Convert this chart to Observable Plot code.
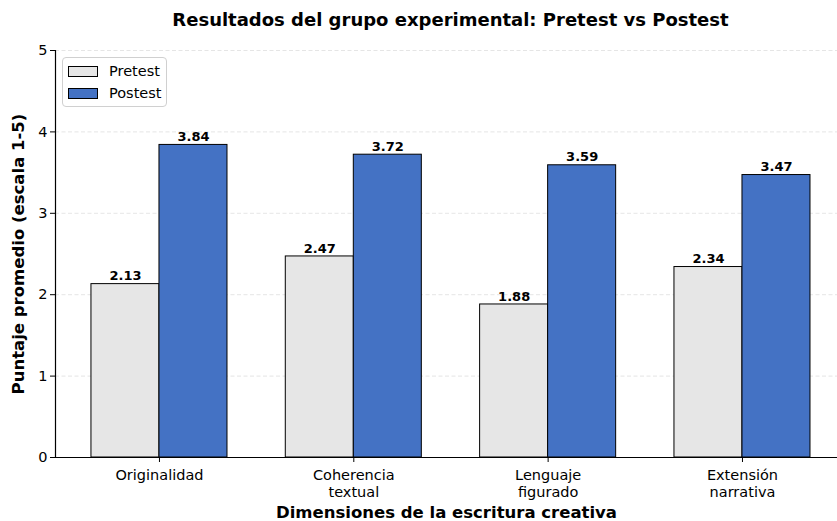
<!DOCTYPE html>
<html>
<head>
<meta charset="utf-8">
<script src="https://cdn.jsdelivr.net/npm/d3@7"></script>
<script src="https://cdn.jsdelivr.net/npm/@observablehq/plot@0.6"></script>
<style>
  html, body { margin: 0; padding: 0; background: #fff; overflow: hidden; }
  body { width: 837px; height: 521px; position: relative; font-family: "DejaVu Sans", sans-serif; }
  #title { position: absolute; left: 55px; width: 791px; top: 9px; text-align: center; font-weight: bold; font-size: 18px; color: #000; }
  #chart { position: absolute; left: 0; top: 38px; }
  #legend { position: absolute; left: 62px; top: 57px; width: 105px; height: 50px; box-sizing: border-box;
            border: 1px solid #d0d0d0; border-radius: 4px; background: rgba(255,255,255,0.8); font-size: 14.5px; }
  .item { position: absolute; left: 5px; height: 18px; display: flex; align-items: center; white-space: nowrap; }
  .sw { width: 28px; height: 9px; border: 1px solid #000; margin-right: 11px; }
</style>
</head>
<body>
<div id="title">Resultados del grupo experimental: Pretest vs Postest</div>
<div id="chart"></div>
<div id="legend"></div>
<script>
const categories = ["Originalidad", "Coherencia\ntextual", "Lenguaje\nfigurado", "Extensión\nnarrativa"];
const seriesNames = ["Pretest", "Postest"];
const pretest = [2.13, 2.47, 1.88, 2.34];
const postest = [3.84, 3.72, 3.59, 3.47];
const seriesColors = ["#e6e6e6", "#4472c4"];
const yTicks = [0, 1, 2, 3, 4, 5];

const barW = 0.35;
const rows = [];
categories.forEach((c, i) => {
  rows.push({i, series: "Pretest", value: pretest[i], x1: i - barW, x2: i});
  rows.push({i, series: "Postest", value: postest[i], x1: i, x2: i + barW});
});

const font = "DejaVu Sans, sans-serif";
const plot = Plot.plot({
  width: 837,
  height: 483,
  marginLeft: 55,
  marginRight: 0,
  marginTop: 12,
  marginBottom: 64,
  style: {fontFamily: font, fontSize: "14.5px", color: "#000", background: "transparent"},
  x: {domain: [-0.535, 3.489], label: null},
  y: {domain: [0, 5], label: null},
  color: {domain: seriesNames, range: seriesColors},
  marks: [
    Plot.gridY(yTicks.slice(1), {stroke: "#c8c8c8", strokeOpacity: 0.6, strokeDasharray: "4,2.5", strokeWidth: 0.8}),
    Plot.rectY(rows, {x1: "x1", x2: "x2", y: "value", fill: "series", stroke: "#000", strokeWidth: 1}),
    Plot.text(rows, {x: d => (d.x1 + d.x2) / 2, y: "value", text: d => d.value.toFixed(2), dy: -8,
      fontWeight: "bold", fontSize: 13, fill: "#000"}),
    Plot.ruleY([0], {stroke: "#000", strokeWidth: 1.2}),
    Plot.ruleX([-0.535], {stroke: "#000", strokeWidth: 1.2}),
    Plot.axisY({ticks: yTicks, tickSize: 5, tickPadding: 3, tickFormat: d => String(d), label: null, fontSize: 14.5}),
    Plot.axisX({ticks: [0, 1, 2, 3], tickSize: 5, tickPadding: 6, tickFormat: i => categories[i], label: null, fontSize: 14.5, lineHeight: 1.15}),
    Plot.text(["Puntaje promedio (escala 1-5)"], {frameAnchor: "left", rotate: -90, dx: -37, textAnchor: "middle",
      fontWeight: "bold", fontSize: 16.5, fill: "#000"}),
    Plot.text(["Dimensiones de la escritura creativa"], {frameAnchor: "bottom", dy: 55, lineAnchor: "middle",
      fontWeight: "bold", fontSize: 16.5, fill: "#000"})
  ]
});
document.getElementById("chart").appendChild(plot);

const legend = document.getElementById("legend");
seriesNames.forEach((s, k) => {
  const it = document.createElement("div");
  it.className = "item";
  it.style.top = (4 + k * 22) + "px";
  const sw = document.createElement("div");
  sw.className = "sw";
  sw.style.background = seriesColors[k];
  it.appendChild(sw);
  const t = document.createElement("span");
  t.textContent = s;
  it.appendChild(t);
  legend.appendChild(it);
});
</script>
</body>
</html>
